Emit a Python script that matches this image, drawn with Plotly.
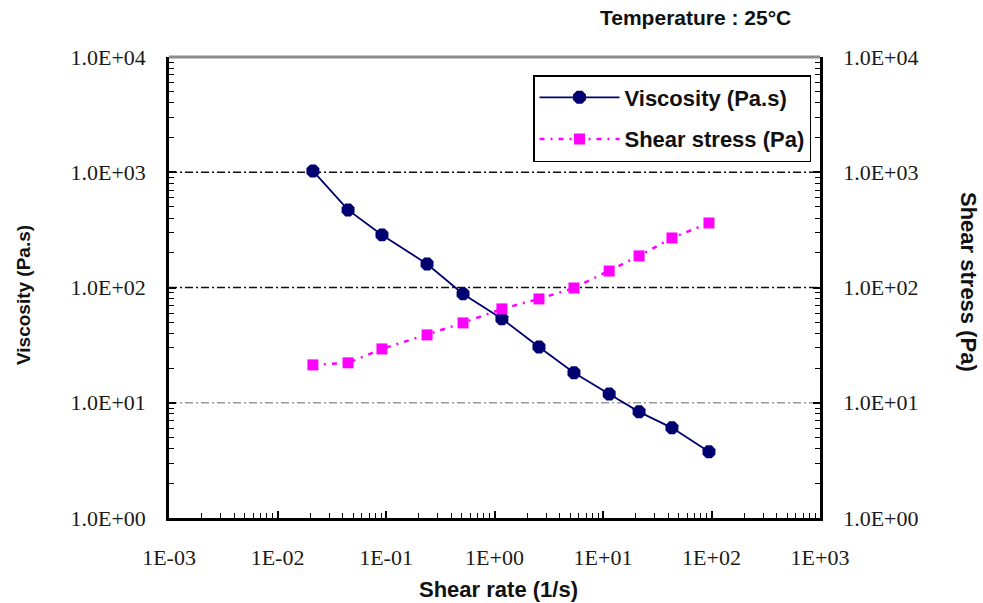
import plotly.graph_objects as go

# ---- data ----
shear_rate = [0.0212, 0.0447, 0.0918, 0.239, 0.513, 1.17, 2.57, 5.4, 11.4, 21.5, 43.2, 94.8]
viscosity = [1026, 471, 286, 160, 88, 53.5, 30.5, 18.2, 11.9, 8.34, 6.06, 3.75]
shear_stress = [21.3, 22.2, 29.3, 38.8, 49.3, 65.2, 79.6, 99, 139, 188, 269, 363]

x_tickvals = [1e-3, 1e-2, 1e-1, 1e0, 1e1, 1e2, 1e3]
x_ticktext = ["1E-03", "1E-02", "1E-01", "1E+00", "1E+01", "1E+02", "1E+03"]
y_tickvals = [1e0, 1e1, 1e2, 1e3, 1e4]
y_ticktext = ["1.0E+00", "1.0E+01", "1.0E+02", "1.0E+03", "1.0E+04"]

grid_levels = [1e3, 1e2, 1e1]
grid_colors = ["#111111", "#111111", "#9a9a9a"]

x_range_log = [-3, 3]
y_range_log = [0, 4]

x_minor = [m * 10 ** e for e in range(-3, 3) for m in range(2, 10)]
y_minor = [m * 10 ** e for e in range(0, 4) for m in range(2, 10)]

NAVY = "#000070"
MAGENTA = "#FF00FF"
SERIF = "Liberation Serif, Times New Roman, serif"
SANS = "Liberation Sans, Arial, sans-serif"

fig = go.Figure()

# horizontal dash-dot reference lines
for lvl, col in zip(grid_levels, grid_colors):
    fig.add_trace(go.Scatter(
        x=[10 ** x_range_log[0], 10 ** x_range_log[1]], y=[lvl, lvl],
        mode="lines", line=dict(color=col, width=1.5, dash="8px,3px,2px,3px"),
        showlegend=False, hoverinfo="skip"))

fig.add_trace(go.Scatter(
    x=shear_rate, y=viscosity, name="Viscosity (Pa.s)",
    mode="lines+markers",
    line=dict(color=NAVY, width=1.8),
    marker=dict(symbol="octagon", size=14, color=NAVY),
    legendgroup="a"))

fig.add_trace(go.Scatter(
    x=shear_rate, y=shear_stress, name="Shear stress (Pa)",
    mode="lines+markers", yaxis="y2",
    line=dict(color=MAGENTA, width=2.5, dash="5px,6px,2px,6px"),
    marker=dict(symbol="square", size=11, color=MAGENTA),
    legendgroup="b"))

W, H = 983, 603
L, R, T, B = 169, 820, 57, 518
pw, ph = R - L, B - T


def px(xp):
    return (xp - L) / pw


def py(yp):
    return (B - yp) / ph


tick_font = dict(family=SERIF, size=22, color="#1a1a1a")
minor_ticks = dict(ticks="inside", ticklen=5, tickwidth=1.2, tickcolor="black", showgrid=False)

fig.update_layout(
    width=W, height=H,
    margin=dict(l=L, r=W - R, t=T, b=H - B, autoexpand=False),
    paper_bgcolor="white", plot_bgcolor="white",
    showlegend=True,
    xaxis=dict(
        type="log", range=x_range_log,
        tickmode="array", tickvals=x_tickvals, ticktext=x_ticktext,
        ticks="inside", ticklen=7, tickwidth=1.5, tickcolor="black",
        minor=dict(tickmode="array", tickvals=x_minor, **minor_ticks),
        showline=True, linecolor="black", linewidth=2.5,
        showgrid=False, zeroline=False,
        tickfont=tick_font, ticklabelstandoff=18,
    ),
    yaxis=dict(
        type="log", range=y_range_log,
        tickmode="array", tickvals=y_tickvals, ticktext=y_ticktext,
        ticks="inside", ticklen=7, tickwidth=1.5, tickcolor="black",
        minor=dict(tickmode="array", tickvals=y_minor, **minor_ticks),
        showline=True, linecolor="black", linewidth=2.5,
        showgrid=False, zeroline=False,
        tickfont=tick_font, ticklabelstandoff=16,
    ),
    yaxis2=dict(
        type="log", range=y_range_log, overlaying="y", side="right",
        tickmode="array", tickvals=y_tickvals, ticktext=y_ticktext,
        ticks="inside", ticklen=7, tickwidth=1.5, tickcolor="black",
        minor=dict(tickmode="array", tickvals=y_minor, **minor_ticks),
        showline=True, linecolor="black", linewidth=2.5,
        showgrid=False, zeroline=False,
        tickfont=tick_font, ticklabelstandoff=16,
    ),
    legend=dict(
        x=px(533), y=py(75), xanchor="left", yanchor="top",
        bgcolor="white", bordercolor="black", borderwidth=1.5,
        font=dict(family=SANS, size=22, color="#111111", weight="bold"),
        traceorder="grouped", tracegroupgap=10,
        itemwidth=80,
    ),
    shapes=[dict(type="line", xref="paper", yref="paper", x0=0, x1=1, y0=1, y1=1,
                 line=dict(color="#8c8c8c", width=3))],
    annotations=[
        dict(text="<b>Shear rate (1/s)</b>", xref="paper", yref="paper",
             x=px(498), y=py(589), xanchor="center", yanchor="middle", showarrow=False,
             font=dict(family=SANS, size=22, color="#111111")),
        dict(text="<b>Viscosity (Pa.s)</b>", xref="paper", yref="paper",
             x=px(23), y=py(295), xanchor="center", yanchor="middle", showarrow=False,
             textangle=-90, font=dict(family=SANS, size=19, color="#111111")),
        dict(text="<b>Shear stress (Pa)</b>", xref="paper", yref="paper",
             x=px(969), y=py(282), xanchor="center", yanchor="middle", showarrow=False,
             textangle=90, font=dict(family=SANS, size=22, color="#111111")),
        dict(text="<b>Temperature : 25°C</b>", xref="paper", yref="paper",
             x=px(793), y=py(18), xanchor="right", yanchor="middle", showarrow=False,
             font=dict(family=SANS, size=21, color="#111111")),
    ],
)

fig.write_html("out.html", config={"displayModeBar": False},
               post_script="document.body.style.margin='0px';")
